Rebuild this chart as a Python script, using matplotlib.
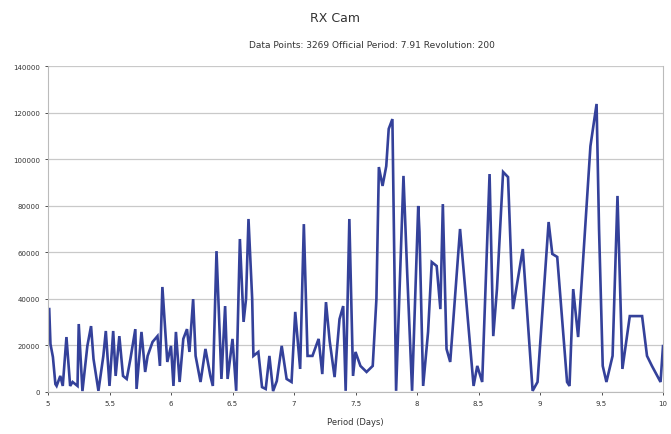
import matplotlib.pyplot as plt

# periodogram of RX Cam
period = [5.01, 5.02, 5.04, 5.06, 5.07, 5.10, 5.12, 5.15, 5.18, 5.20, 5.24, 5.25,
          5.28, 5.32, 5.35, 5.37, 5.41, 5.45, 5.47, 5.50, 5.53, 5.55, 5.58, 5.61,
          5.64, 5.67, 5.71, 5.72, 5.76, 5.79, 5.81, 5.85, 5.89, 5.91, 5.93, 5.97,
          6.00, 6.02, 6.04, 6.07, 6.10, 6.13, 6.15, 6.18, 6.20, 6.24, 6.28, 6.32,
          6.34, 6.37, 6.41, 6.44, 6.46, 6.50, 6.53, 6.56, 6.59, 6.61, 6.63, 6.66,
          6.67, 6.71, 6.74, 6.77, 6.80, 6.83, 6.86, 6.90, 6.94, 6.98, 7.01, 7.05,
          7.08, 7.11, 7.15, 7.20, 7.23, 7.26, 7.29, 7.33, 7.37, 7.40, 7.42, 7.45,
          7.48, 7.50, 7.54, 7.59, 7.64, 7.67, 7.69, 7.72, 7.75, 7.77, 7.80, 7.83,
          7.89, 7.92, 7.96, 8.01, 8.02, 8.05, 8.09, 8.12, 8.16, 8.19, 8.21, 8.24,
          8.27, 8.35, 8.46, 8.49, 8.53, 8.59, 8.62, 8.65, 8.70, 8.74, 8.78, 8.86,
          8.94, 8.98, 9.07, 9.10, 9.14, 9.22, 9.24, 9.27, 9.31, 9.41, 9.46, 9.48,
          9.51, 9.54, 9.59, 9.63, 9.67, 9.73, 9.83, 9.87, 9.91, 9.98, 10.0]
power = [35600, 20600, 15000, 3400, 2600, 6900, 2600, 23600, 2600, 4300, 2600, 29200,
         400, 19800, 28300, 14200, 500, 15500, 26200, 2600, 26200, 6900, 24000, 6900,
         5600, 14200, 27000, 1300, 25800, 8600, 15500, 21500, 24000, 11200, 45100, 12900,
         19800, 2600, 25800, 4300, 22800, 27000, 17200, 39900, 15500, 4300, 18500, 6900,
         2600, 60500, 5600, 36900, 5600, 22800, 500, 65700, 30100, 40000, 74300, 40000,
         15500, 17200, 2100, 1300, 15500, 400, 4700, 19800, 5600, 4300, 34400, 9900,
         72100, 15500, 15500, 22800, 7700, 38600, 21900, 6400, 31300, 36900, 500, 74300,
         6900, 17200, 11200, 8600, 11200, 39900, 96600, 88500, 97000, 113000, 117200, 500,
         92800, 51500, 500, 79900, 68700, 2600, 25800, 55800, 54100, 35600, 80700, 18500,
         12900, 70000, 2600, 11200, 4300, 93600, 24000, 44200, 94500, 92300, 35600, 61400,
         500, 4300, 73000, 59300, 58000, 4300, 2600, 44200, 23600, 105600, 123700, 70000,
         11200, 4300, 15500, 84200, 9900, 32600, 32600, 15500, 11200, 4300, 19700]

x_ticks = [5, 5.5, 6, 6.5, 7, 7.5, 8, 8.5, 9, 9.5, 10]
x_labels = ['5', '5.5', '6', '6.5', '7', '7.5', '8', '8.5', '9', '9.5', '10']
y_ticks = [0, 20000, 40000, 60000, 80000, 100000, 120000, 140000]

txt = '#333333'
fig = plt.figure(figsize=(6.71, 4.35), dpi=100)
ax = fig.add_axes([48/671, 42/435, 615/671, 326/435])

ax.plot(period, power, color='#34419a', lw=1.9, solid_joinstyle='miter')

ax.set_xlim(5, 10)
ax.set_ylim(0, 140000)
ax.set_xticks(x_ticks)
ax.set_xticklabels(x_labels)
ax.set_yticks(y_ticks)
ax.tick_params(labelsize=5, colors=txt, length=2, width=0.6)
ax.yaxis.grid(True, color='#c9c9c9', lw=0.9)
ax.set_axisbelow(True)
for s in ['left', 'bottom', 'right']:
    ax.spines[s].set_color('#bbbbbb')
    ax.spines[s].set_linewidth(0.8)
ax.spines['top'].set_visible(False)

ax.set_xlabel('Period (Days)', fontsize=6, color=txt, labelpad=8)
fig.text(0.5, 1 - 18/435, 'RX Cam', ha='center', va='center', fontsize=9, color=txt)
fig.text(0.555, 1 - 45/435, 'Data Points: 3269 Official Period: 7.91 Revolution: 200',
         ha='center', va='center', fontsize=6.5, color=txt)

fig.savefig('out.png', dpi=100)
